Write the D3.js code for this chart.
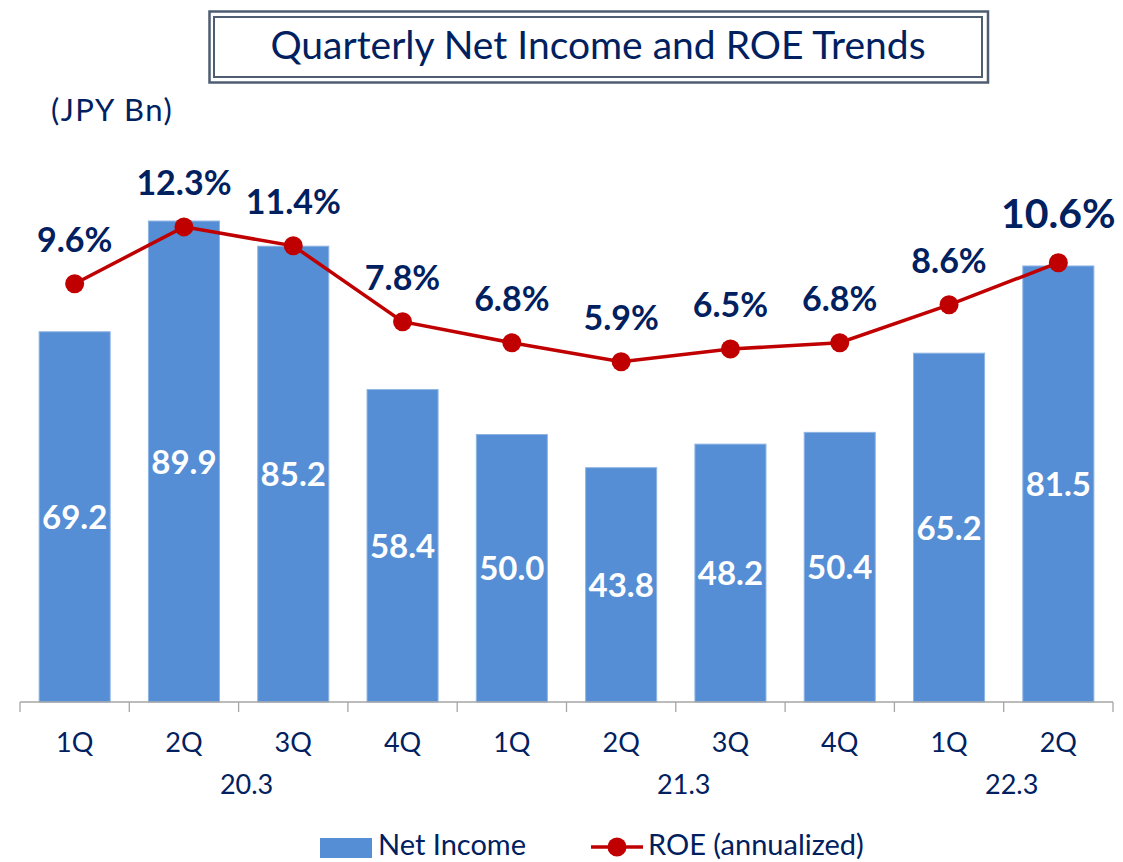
<!DOCTYPE html>
<html>
<head>
<meta charset="utf-8">
<script src="https://cdn.jsdelivr.net/npm/d3@7"></script>
<style>
  body { margin: 0; background: #fff; }
  text { font-family: Lato, "Open Sans", sans-serif; fill: #002060; }
</style>
</head>
<body>
<div class="chart"></div>
<script>
var width = 1123, height = 862;

// data
var quarters = ["1Q", "2Q", "3Q", "4Q", "1Q", "2Q", "3Q", "4Q", "1Q", "2Q"];
var fiscalYears = ["20.3", "20.3", "20.3", "20.3", "21.3", "21.3", "21.3", "21.3", "22.3", "22.3"];
var yearLabels = ["20.3", "21.3", "22.3"];
var netIncome = [69.2, 89.9, 85.2, 58.4, 50.0, 43.8, 48.2, 50.4, 65.2, 81.5];
var roe = [9.6, 12.3, 11.4, 7.8, 6.8, 5.9, 6.5, 6.8, 8.6, 10.6];

var barColor = "#558ed5", lineColor = "#c00000";

var svg = d3.select(".chart")
  .append("svg")
  .attr("width", width)
  .attr("height", height);

// title box (double frame)
svg.append("rect")
  .attr("x", 209.5).attr("y", 11.5)
  .attr("width", 778.5).attr("height", 71)
  .attr("fill", "none").attr("stroke", "#4e5d72").attr("stroke-width", 2.5);
svg.append("rect")
  .attr("x", 214).attr("y", 17)
  .attr("width", 768).attr("height", 60)
  .attr("fill", "none").attr("stroke", "#4e5d72").attr("stroke-width", 2);
svg.append("text")
  .attr("x", 598).attr("y", 59)
  .attr("text-anchor", "middle")
  .style("font-size", "39px")
  .text("Quarterly Net Income and ROE Trends");

svg.append("text")
  .attr("x", 51).attr("y", 121)
  .style("font-size", "31px")
  .style("letter-spacing", "1.5px")
  .text("(JPY Bn)");

// scales
var idx = d3.range(quarters.length);
var x = d3.scaleBand()
  .domain(idx)
  .range([20, 1113]);

var y = d3.scaleLinear()
  .domain([0, 100])
  .range([702, 167]);

var y2 = d3.scaleLinear()
  .domain([0, 15])
  .range([486, 170]);

var barW = x.bandwidth() * 0.65;

// bars
svg.append("g")
  .selectAll("rect")
  .data(idx)
  .enter()
  .append("rect")
  .attr("x", function(i){ return x(i) + (x.bandwidth() - barW) / 2; })
  .attr("y", function(i){ return y(netIncome[i]); })
  .attr("width", barW)
  .attr("height", function(i){ return y(0) - y(netIncome[i]); })
  .attr("fill", barColor)
  .attr("stroke", "#8fb4e3")
  .attr("stroke-width", 1);

// bar labels
svg.append("g")
  .selectAll("text")
  .data(idx)
  .enter()
  .append("text")
  .attr("x", function(i){ return x(i) + x.bandwidth() / 2; })
  .attr("y", function(i){ return (y(netIncome[i]) + y(0)) / 2 + 12; })
  .attr("text-anchor", "middle")
  .style("font-size", "33px")
  .style("font-weight", "bold")
  .style("fill", "#fff")
  .text(function(i){ return netIncome[i].toFixed(1); });

// x axis
var xAxis = svg.append("g")
  .attr("class", "x-axis")
  .attr("transform", "translate(0,702)");
xAxis.append("line")
  .attr("x1", 20).attr("x2", 1113)
  .attr("stroke", "#a6a6a6").attr("stroke-width", 1.3);
xAxis.selectAll(".tick")
  .data(idx.concat([quarters.length]))
  .enter()
  .append("line")
  .attr("x1", function(i){ return i < quarters.length ? x(i) : x.range()[1]; })
  .attr("x2", function(i){ return i < quarters.length ? x(i) : x.range()[1]; })
  .attr("y1", 0).attr("y2", 10)
  .attr("stroke", "#a6a6a6").attr("stroke-width", 1.3);

// quarter labels
svg.append("g")
  .selectAll("text")
  .data(idx)
  .enter()
  .append("text")
  .attr("x", function(i){ return x(i) + x.bandwidth() / 2; })
  .attr("y", 752)
  .attr("text-anchor", "middle")
  .style("font-size", "27px")
  .text(function(i){ return quarters[i]; });

// fiscal year labels, centred on their group of quarters
svg.append("g")
  .selectAll("text")
  .data(yearLabels)
  .enter()
  .append("text")
  .attr("x", function(yr){
    var members = idx.filter(function(i){ return fiscalYears[i] == yr; });
    var x0 = x(members[0]), x1 = x(members[members.length - 1]) + x.bandwidth();
    return (x0 + x1) / 2 + 8;
  })
  .attr("y", 794)
  .attr("text-anchor", "middle")
  .style("font-size", "27px")
  .text(function(yr){ return yr; });

// ROE line
var linePath = d3.line()
  .x(function(i){ return x(i) + x.bandwidth() / 2; })
  .y(function(i){ return y2(roe[i]); });

svg.append("path")
  .attr("d", linePath(idx))
  .attr("fill", "none")
  .attr("stroke", lineColor)
  .attr("stroke-width", 3.5);

svg.append("g")
  .selectAll("circle")
  .data(idx)
  .enter()
  .append("circle")
  .attr("cx", function(i){ return x(i) + x.bandwidth() / 2; })
  .attr("cy", function(i){ return y2(roe[i]); })
  .attr("r", 9.5)
  .attr("fill", lineColor);

// ROE labels (last one emphasised)
svg.append("g")
  .selectAll("text")
  .data(idx)
  .enter()
  .append("text")
  .attr("x", function(i){ return x(i) + x.bandwidth() / 2; })
  .attr("y", function(i){ return y2(roe[i]) - (i == roe.length - 1 ? 35 : 32); })
  .attr("text-anchor", "middle")
  .style("font-size", function(i){ return i == roe.length - 1 ? "41px" : "34px"; })
  .style("font-weight", "bold")
  .text(function(i){ return roe[i].toFixed(1) + "%"; });

// legend
var legend = svg.append("g").attr("class", "legend");
legend.append("rect")
  .attr("x", 320).attr("y", 838)
  .attr("width", 52).attr("height", 20)
  .attr("fill", barColor);
legend.append("text")
  .attr("x", 378).attr("y", 855)
  .style("font-size", "29px")
  .text("Net Income");
legend.append("line")
  .attr("x1", 591).attr("x2", 643)
  .attr("y1", 847).attr("y2", 847)
  .attr("stroke", lineColor).attr("stroke-width", 3.5);
legend.append("circle")
  .attr("cx", 617).attr("cy", 847).attr("r", 9.5)
  .attr("fill", lineColor);
legend.append("text")
  .attr("x", 648).attr("y", 855)
  .style("font-size", "29px")
  .text("ROE (annualized)");
</script>
</body>
</html>
